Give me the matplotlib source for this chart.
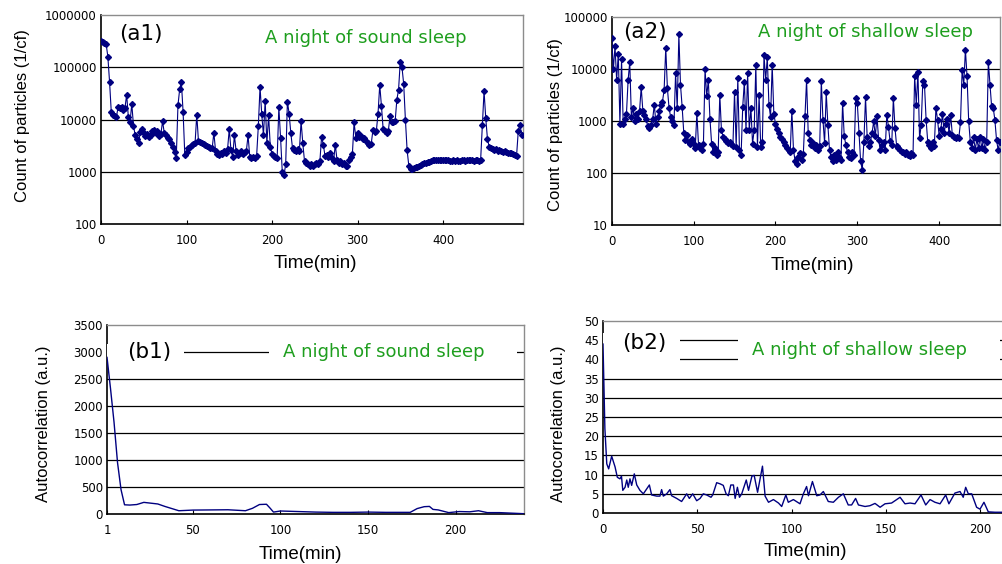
import numpy as np
import matplotlib.pyplot as plt
from matplotlib import font_manager
from matplotlib.patches import Rectangle
from matplotlib.ticker import FuncFormatter

# ---- data ----
# (a1) particle count, one value every 2 min, sound sleep
a1_counts = [
    320000, 300000, 290000, 280000, 160000, 53000, 14000, 12000, 11500, 11000,
    17500, 16500, 17000, 15500, 16500, 30000, 11000, 9000, 20000, 7500,
    5000, 4200, 3600, 5800, 6500, 5500, 4800, 5200, 4600, 5000,
    6000, 6400, 5500, 6000, 4800, 5200, 9300, 5500, 5000, 4500,
    4200, 3600, 3000, 2400, 1800, 18600, 38000, 52000, 14000, 2100,
    2400, 2800, 3000, 3200, 3400, 3500, 12400, 3800, 3700, 3500,
    3400, 3300, 3100, 3000, 2900, 2800, 5600, 2500, 2200, 2100,
    2300, 2200, 2500, 2300, 2700, 6500, 2600, 1900, 5000, 2500,
    2100, 2300, 2500, 2200, 2400, 2500, 5000, 1900, 1800, 1900,
    1800, 2000, 7500, 42000, 12500, 5000, 23000, 3500, 12000, 3000,
    2200, 2000, 1900, 1800, 17000, 4500, 1000, 850, 1400, 22000,
    13000, 5500, 2800, 2600, 2500, 2700, 2500, 9300, 3500, 1600,
    1500, 1400, 1300, 1400, 1300, 1400, 1500, 1400, 1600, 4700,
    3300, 2000, 2100, 1900, 2300, 1800, 1600, 3300, 1700, 1500,
    1600, 1400, 1500, 1300, 1300, 1700, 1900, 2200, 8800, 4500,
    5500, 4600, 4800, 4300, 4500, 3800, 3500, 3300, 3400, 6200,
    5800, 6000, 13000, 46000, 18000, 6500, 6000, 5600, 6000, 11500,
    9000, 8800, 9200, 24000, 37000, 128000, 100000, 48000, 10000, 2600,
    1300, 1150, 1150, 1200, 1250, 1250, 1300, 1350, 1400, 1450,
    1500, 1550, 1550, 1600, 1650, 1650, 1700, 1700, 1650, 1700,
    1700, 1650, 1700, 1650, 1600, 1600, 1650, 1600, 1650, 1600,
    1600, 1650, 1650, 1600, 1650, 1650, 1700, 1650, 1600, 1650,
    1650, 1600, 1700, 8000, 35000, 10500, 4200, 3000, 2800, 2700,
    2600, 2700, 2500, 2600, 2500, 2400, 2500, 2400, 2300, 2300,
    2300, 2200, 2100, 2000, 6000, 8000, 5000,
]

# (a2) particle count, one value every 2 min, shallow sleep
a2_counts = [
    40000, 10000, 28000, 6200, 20000, 900, 15600, 900, 1100, 1400,
    6200, 13700, 1200, 1800, 1000, 1400, 1100, 1600, 4500, 1600,
    1300, 1100, 800, 750, 850, 1100, 2100, 900, 1200, 1600,
    2100, 2400, 4000, 26000, 4300, 1800, 1200, 1000, 850, 8400,
    1800, 47000, 5000, 1900, 600, 430, 550, 400, 370, 450,
    370, 300, 1460, 350, 300, 280, 370, 10000, 3000, 6200,
    1100, 370, 250, 300, 220, 250, 3200, 680, 500, 450,
    420, 380, 400, 360, 330, 3700, 320, 6700, 280, 220,
    1900, 5800, 680, 8400, 680, 1800, 370, 680, 12000, 320,
    3200, 320, 400, 19000, 6200, 17000, 2100, 1200, 12000, 1400,
    900, 700, 600, 500, 450, 400, 350, 300, 280, 250,
    1600, 280, 170, 150, 200, 240, 180, 230, 1250, 6300,
    590, 440, 350, 380, 300, 350, 280, 330, 6000, 1060,
    380, 3600, 850, 280, 200, 170, 220, 180, 260, 200,
    180, 2250, 510, 350, 250, 200, 195, 250, 220, 2800,
    2200, 590, 170, 115, 400, 2900, 500, 330, 400, 600,
    1000, 510, 1250, 440, 280, 350, 400, 280, 1330, 790,
    410, 350, 2800, 740, 330, 300, 280, 250, 260, 230,
    250, 220, 210, 240, 220, 7500, 2100, 8800, 470, 850,
    5900, 5100, 1060, 400, 350, 300, 400, 330, 1800, 1060,
    510, 700, 1400, 600, 900, 1100, 600, 1330, 550, 500,
    470, 500, 480, 950, 9800, 5100, 24000, 7300, 1000, 400,
    300, 500, 280, 450, 300, 500, 300, 450, 280, 400,
    14000, 5100, 1930, 1800, 1060, 440, 280, 400,
]

# (b1) autocorrelation, sound sleep
b1_time = [1, 3, 5, 7, 9, 11, 14, 18, 22, 26,
           30, 34, 38, 42, 50, 60, 70, 80, 84, 88,
           92, 94, 96, 100, 110, 120, 130, 140, 150, 160,
           170, 174, 178, 182, 185, 187, 190, 196, 202, 208,
           213, 218, 225, 232, 239]
b1_acf = [2900, 2320, 1700, 950, 450, 170, 165, 175, 215, 200,
          185, 140, 100, 60, 72, 75, 78, 60, 105, 175,
          180, 110, 35, 55, 45, 35, 30, 30, 35, 30,
          30, 30, 100, 135, 140, 85, 75, 25, 45, 40,
          60, 25, 25, 15, 5]

# (b2) autocorrelation, shallow sleep
b2_time = [0, 1, 2, 3, 4.6, 6.4, 7.6, 9, 9.8, 10.5,
           11.7, 12.6, 13.4, 14.3, 15.2, 16.6, 17.9, 19.6, 21.4, 24.6,
           25.8, 28.5, 30.2, 31.1, 32, 33.8, 35.5, 36.4, 39.1, 41.7,
           44.4, 45.8, 47.6, 49.7, 51.5, 53.2, 55, 57.3, 58.2, 60.3,
           62.1, 63.8, 65.3, 66.5, 67.8, 69.2, 70.1, 71.3, 72.4, 73.6,
           76, 77.2, 79, 80.2, 82, 84.6, 86, 87.8, 90.4, 93.1,
           94.8, 97, 98.3, 101, 104.5, 106.3, 108, 109, 111.1, 113.4,
           115.1, 116.9, 119.5, 122.2, 124.9, 127.5, 130.1, 131.9, 134, 135.5,
           139, 141.6, 144.3, 147, 149.6, 153.1, 157.6, 160.2, 162.9, 165.5,
           168.7, 171.2, 173.5, 176.1, 178.8, 181.8, 183.5, 186.7, 189.4, 191.1,
           192.4, 193.8, 195.6, 198.2, 200, 202.1, 204.4, 208, 213]
b2_acf = [44, 22, 12.8, 11.5, 14.8, 12, 9.3, 8.9, 9.6, 5.9,
          6.7, 8.6, 6.7, 8.9, 7.2, 10.2, 7.3, 5.9, 5, 7.3,
          4.7, 4.4, 4.4, 6.1, 4.4, 5, 6.1, 4.5, 3.8, 3,
          5, 3.8, 5, 3.2, 3.8, 5, 4.7, 4.1, 4.7, 7.9,
          7.6, 7.2, 5, 4.5, 7.3, 7.3, 3.8, 6.7, 4.1, 5,
          8.6, 5.9, 9.6, 9.8, 5.4, 12.2, 4.4, 2.8, 3.5, 2.6,
          1.7, 4.7, 2.8, 3.5, 2.4, 5, 6.9, 4.5, 8.2, 4.5,
          4.7, 5.6, 3, 2.8, 4.1, 5, 2.1, 2.1, 3.8, 2.1,
          1.7, 1.9, 2.5, 1.5, 2.4, 2.6, 4.1, 2.4, 2.6, 2.4,
          4.7, 2.1, 3.5, 2.8, 2.4, 4.7, 2.4, 5.2, 5.6, 4.1,
          6.7, 5, 5, 1.5, 1, 2.8, 0.3, 0.2, 0.2]

a1_time = np.arange(len(a1_counts)) * 2
a2_time = np.arange(len(a2_counts)) * 2

# ---- style ----
NAVY = '#000080'
GREEN = '#1e9e1e'
installed = {f.name for f in font_manager.fontManager.ttflist}
LABEL_FONT = 'Liberation Sans' if 'Liberation Sans' in installed else 'DejaVu Sans'
if 'Liberation Sans Narrow' in installed:
    YLABEL_FONT, YLABEL_SIZE = 'Liberation Sans Narrow', 14
else:
    YLABEL_FONT, YLABEL_SIZE = LABEL_FONT, 12
TICK_FONT = 'DejaVu Sans'


def style_axes(ax, xlim, ylim, xticks, yticks, log=False):
    if log:
        ax.set_yscale('log')
    ax.set_xlim(*xlim)
    ax.set_ylim(*ylim)
    ax.set_xticks(xticks)
    ax.set_yticks(yticks)
    ax.minorticks_off()
    ax.yaxis.set_major_formatter(FuncFormatter(lambda v, p: '%d' % round(v)))
    ax.tick_params(axis='x', direction='in', length=3, width=0.8, pad=7,
                   labelsize=8.5)
    ax.tick_params(axis='y', length=0, pad=3, labelsize=8.5)
    for lab in ax.get_xticklabels() + ax.get_yticklabels():
        lab.set_fontfamily(TICK_FONT)
    # horizontal grid lines, only inside the frame
    for y in yticks:
        if ylim[0] < y < ylim[1]:
            ax.axhline(y, color='black', lw=0.9, zorder=1)
    for s in ['left', 'bottom']:
        ax.spines[s].set_color('black')
        ax.spines[s].set_linewidth(1.2)
    for s in ['top', 'right']:
        ax.spines[s].set_color('#8c8c8c')
        ax.spines[s].set_linewidth(1.0)


def set_labels(ax, ylabel, xpos, ypos):
    ax.set_xlabel('Time(min)', fontsize=13.5, family=LABEL_FONT, va='center')
    ax.set_ylabel(ylabel, fontsize=YLABEL_SIZE, family=YLABEL_FONT,
                  va='center', ha='center')
    ax.xaxis.set_label_coords(*xpos)
    ax.yaxis.set_label_coords(*ypos)


def white_box(ax, x0, x1, y0, y1):
    ax.add_patch(Rectangle((x0, y0), x1 - x0, y1 - y0, transform=ax.transAxes,
                           fc='white', ec='none', zorder=3))


fig = plt.figure(figsize=(10.03, 5.64), dpi=100)
ax_a1 = fig.add_axes([0.1007, 0.6028, 0.4207, 0.3706])
ax_a2 = fig.add_axes([0.6099, 0.6011, 0.3869, 0.3679])
ax_b1 = fig.add_axes([0.1067, 0.0887, 0.4158, 0.3351])
ax_b2 = fig.add_axes([0.6012, 0.0904, 0.4003, 0.3404])

# (a1)
ax_a1.plot(a1_time, a1_counts, color=NAVY, lw=0.8, marker='D', ms=3.0,
           mec=NAVY, mfc=NAVY, zorder=4)
style_axes(ax_a1, (0, 493.5), (100, 1e6), [0, 100, 200, 300, 400],
           [100, 1000, 10000, 100000, 1000000], log=True)
set_labels(ax_a1, 'Count of particles (1/cf)', (0.507, -0.187), (-0.185, 0.52))
ax_a1.text(0.095, 0.909, '(a1)', transform=ax_a1.transAxes, fontsize=15.5,
           ha='center', va='center', family='DejaVu Sans', zorder=5)
ax_a1.text(0.627, 0.89, 'A night of sound sleep', transform=ax_a1.transAxes,
           fontsize=13, color=GREEN, ha='center', va='center', zorder=5)

# (a2)
ax_a2.plot(a2_time, a2_counts, color=NAVY, lw=0.8, marker='D', ms=3.0,
           mec=NAVY, mfc=NAVY, zorder=4)
style_axes(ax_a2, (0, 474), (10, 1e5), [0, 100, 200, 300, 400],
           [10, 100, 1000, 10000, 100000], log=True)
set_labels(ax_a2, 'Count of particles (1/cf)', (0.517, -0.193), (-0.146, 0.482))
ax_a2.text(0.0845, 0.93, '(a2)', transform=ax_a2.transAxes, fontsize=15.5,
           ha='center', va='center', family='DejaVu Sans', zorder=5)
ax_a2.text(0.655, 0.93, 'A night of shallow sleep', transform=ax_a2.transAxes,
           fontsize=13, color=GREEN, ha='center', va='center', zorder=5)

# (b1)
ax_b1.plot(b1_time, b1_acf, color=NAVY, lw=1.0, zorder=4)
style_axes(ax_b1, (1, 239), (0, 3500), [1, 50, 100, 150, 200],
           list(range(0, 3501, 500)))
set_labels(ax_b1, 'Autocorrelation (a.u.)', (0.463, -0.217), (-0.153, 0.479))
white_box(ax_b1, 0.0, 0.185, 0.815, 0.9)
white_box(ax_b1, 0.388, 0.983, 0.815, 0.9)
ax_b1.text(0.1007, 0.857, '(b1)', transform=ax_b1.transAxes, fontsize=15.5,
           ha='center', va='center', family='DejaVu Sans', zorder=5)
ax_b1.text(0.663, 0.857, 'A night of sound sleep', transform=ax_b1.transAxes,
           fontsize=13, color=GREEN, ha='center', va='center', zorder=5)

# (b2)
ax_b2.plot(b2_time, b2_acf, color=NAVY, lw=1.0, zorder=4)
style_axes(ax_b2, (0, 213), (0, 50), [0, 50, 100, 150, 200],
           list(range(0, 51, 5)))
set_labels(ax_b2, 'Autocorrelation (a.u.)', (0.503, -0.2), (-0.110, 0.464))
white_box(ax_b2, 0.0, 0.192, 0.755, 0.94)
white_box(ax_b2, 0.336, 0.989, 0.755, 0.94)
ax_b2.text(0.102, 0.885, '(b2)', transform=ax_b2.transAxes, fontsize=15.5,
           ha='center', va='center', family='DejaVu Sans', zorder=5)
ax_b2.text(0.638, 0.849, 'A night of shallow sleep', transform=ax_b2.transAxes,
           fontsize=13, color=GREEN, ha='center', va='center', zorder=5)

fig.savefig('out.png', dpi=100, facecolor='white')
